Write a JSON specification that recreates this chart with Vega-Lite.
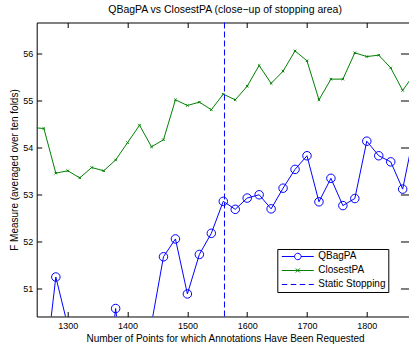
{
  "$schema": "https://vega.github.io/schema/vega-lite/v6.json",
  "width": 376.74,
  "height": 294,
  "autosize": {"type": "none"},
  "padding": {"left": 36.7, "top": 22.5, "right": 0, "bottom": 30},
  "background": "white",
  "config": {
    "font": "Liberation Sans",
    "view": {"stroke": "black", "strokeWidth": 1},
    "axis": {
      "grid": false,
      "domain": false,
      "tickColor": "black",
      "tickSize": -5,
      "tickWidth": 1,
      "labelColor": "black",
      "labelFontSize": 9,
      "labelFont": "Liberation Sans",
      "titleFont": "Liberation Sans",
      "titleFontSize": 10,
      "titleFontWeight": "normal",
      "titleColor": "black"
    }
  },
  "title": {
    "text": "QBagPA vs ClosestPA (close−up of stopping area)",
    "fontSize": 10.5,
    "fontWeight": "normal",
    "font": "Liberation Sans",
    "anchor": "middle",
    "baseline": "bottom",
    "offset": 5,
    "dy": 8,
    "color": "black"
  },
  "datasets": {
    "series": [
      {"series": "QBagPA", "x": 1260, "y": 49.05},
      {"series": "QBagPA", "x": 1280, "y": 51.24},
      {"series": "QBagPA", "x": 1300, "y": 50.2},
      {"series": "QBagPA", "x": 1320, "y": 49.4},
      {"series": "QBagPA", "x": 1340, "y": 49.0},
      {"series": "QBagPA", "x": 1360, "y": 48.4},
      {"series": "QBagPA", "x": 1380, "y": 50.57},
      {"series": "QBagPA", "x": 1400, "y": 48.4},
      {"series": "QBagPA", "x": 1420, "y": 49.2},
      {"series": "QBagPA", "x": 1440, "y": 50.25},
      {"series": "QBagPA", "x": 1460, "y": 51.67},
      {"series": "QBagPA", "x": 1480, "y": 52.05},
      {"series": "QBagPA", "x": 1500, "y": 50.88},
      {"series": "QBagPA", "x": 1520, "y": 51.72},
      {"series": "QBagPA", "x": 1540, "y": 52.17},
      {"series": "QBagPA", "x": 1560, "y": 52.85},
      {"series": "QBagPA", "x": 1580, "y": 52.68},
      {"series": "QBagPA", "x": 1600, "y": 52.92},
      {"series": "QBagPA", "x": 1620, "y": 52.99},
      {"series": "QBagPA", "x": 1640, "y": 52.69},
      {"series": "QBagPA", "x": 1660, "y": 53.13},
      {"series": "QBagPA", "x": 1680, "y": 53.53},
      {"series": "QBagPA", "x": 1700, "y": 53.82},
      {"series": "QBagPA", "x": 1720, "y": 52.84},
      {"series": "QBagPA", "x": 1740, "y": 53.34},
      {"series": "QBagPA", "x": 1760, "y": 52.76},
      {"series": "QBagPA", "x": 1780, "y": 52.91},
      {"series": "QBagPA", "x": 1800, "y": 54.13},
      {"series": "QBagPA", "x": 1820, "y": 53.82},
      {"series": "QBagPA", "x": 1840, "y": 53.69},
      {"series": "QBagPA", "x": 1860, "y": 53.11},
      {"series": "QBagPA", "x": 1880, "y": 54.36},
      {"series": "ClosestPA", "x": 1240, "y": 54.42},
      {"series": "ClosestPA", "x": 1260, "y": 54.40},
      {"series": "ClosestPA", "x": 1280, "y": 53.45},
      {"series": "ClosestPA", "x": 1300, "y": 53.50},
      {"series": "ClosestPA", "x": 1320, "y": 53.35},
      {"series": "ClosestPA", "x": 1340, "y": 53.57},
      {"series": "ClosestPA", "x": 1360, "y": 53.50},
      {"series": "ClosestPA", "x": 1380, "y": 53.73},
      {"series": "ClosestPA", "x": 1400, "y": 54.10},
      {"series": "ClosestPA", "x": 1420, "y": 54.47},
      {"series": "ClosestPA", "x": 1440, "y": 54.01},
      {"series": "ClosestPA", "x": 1460, "y": 54.16},
      {"series": "ClosestPA", "x": 1480, "y": 55.01},
      {"series": "ClosestPA", "x": 1500, "y": 54.89},
      {"series": "ClosestPA", "x": 1520, "y": 54.96},
      {"series": "ClosestPA", "x": 1540, "y": 54.80},
      {"series": "ClosestPA", "x": 1560, "y": 55.13},
      {"series": "ClosestPA", "x": 1580, "y": 55.01},
      {"series": "ClosestPA", "x": 1600, "y": 55.30},
      {"series": "ClosestPA", "x": 1620, "y": 55.74},
      {"series": "ClosestPA", "x": 1640, "y": 55.36},
      {"series": "ClosestPA", "x": 1660, "y": 55.62},
      {"series": "ClosestPA", "x": 1680, "y": 56.05},
      {"series": "ClosestPA", "x": 1700, "y": 55.84},
      {"series": "ClosestPA", "x": 1720, "y": 55.01},
      {"series": "ClosestPA", "x": 1740, "y": 55.45},
      {"series": "ClosestPA", "x": 1760, "y": 55.45},
      {"series": "ClosestPA", "x": 1780, "y": 56.01},
      {"series": "ClosestPA", "x": 1800, "y": 55.93},
      {"series": "ClosestPA", "x": 1820, "y": 55.96},
      {"series": "ClosestPA", "x": 1840, "y": 55.69},
      {"series": "ClosestPA", "x": 1860, "y": 55.21},
      {"series": "ClosestPA", "x": 1880, "y": 55.57}
    ],
    "stop": [{"series": "Static Stopping", "x": 1562}]
  },
  "layer": [
    {
      "data": {"name": "series"},
      "transform": [{"filter": "datum.series === 'QBagPA'"}],
      "mark": {"type": "line", "color": "#0000ff", "strokeWidth": 1, "clip": true},
      "encoding": {
        "x": {
          "field": "x", "type": "quantitative",
          "scale": {"domain": [1248, 1878], "nice": false, "zero": false},
          "axis": {
            "orient": "bottom",
            "values": [1300, 1400, 1500, 1600, 1700, 1800],
            "format": "d",
            "title": "Number of Points for which Annotations Have Been Requested",
            "labelPadding": 10,
            "titlePadding": 3
          }
        },
        "y": {
          "field": "y", "type": "quantitative",
          "scale": {"domain": [50.4, 56.655], "nice": false, "zero": false},
          "axis": {
            "orient": "left",
            "values": [51, 52, 53, 54, 55, 56],
            "format": "d",
            "title": "F Measure (averaged over ten folds)",
            "labelPadding": 9,
            "titlePadding": 3
          }
        }
      }
    },
    {
      "data": {"name": "series"},
      "transform": [{"filter": "datum.series === 'ClosestPA'"}],
      "mark": {"type": "line", "color": "#008000", "strokeWidth": 1, "clip": true},
      "encoding": {
        "x": {"field": "x", "type": "quantitative", "axis": null},
        "y": {"field": "y", "type": "quantitative", "axis": null}
      }
    },
    {
      "data": {"name": "series"},
      "transform": [{"filter": "datum.series === 'QBagPA'"}],
      "mark": {"type": "point", "shape": "circle", "filled": false, "size": 72, "color": "#0000ff", "strokeWidth": 1, "opacity": 1, "clip": true},
      "encoding": {
        "x": {"field": "x", "type": "quantitative", "axis": null},
        "y": {"field": "y", "type": "quantitative", "axis": null}
      }
    },
    {
      "data": {"name": "series"},
      "transform": [{"filter": "datum.series === 'ClosestPA'"}],
      "mark": {"type": "point", "shape": "M-1,-1L1,1M-1,1L1,-1", "filled": false, "size": 6, "color": "#008000", "strokeWidth": 1, "opacity": 1, "clip": true},
      "encoding": {
        "x": {"field": "x", "type": "quantitative", "axis": null},
        "y": {"field": "y", "type": "quantitative", "axis": null}
      }
    },
    {
      "data": {"name": "stop"},
      "mark": {"type": "rule", "color": "#0000ff", "strokeWidth": 1, "strokeDash": [6, 3]},
      "encoding": {
        "x": {"field": "x", "type": "quantitative", "axis": null}
      }
    },
    {
      "data": {"name": "series"},
      "mark": {"type": "point", "filled": false, "opacity": 0, "clip": true},
      "encoding": {
        "x": {
          "field": "x", "type": "quantitative",
          "axis": {"orient": "top", "values": [1300, 1400, 1500, 1600, 1700, 1800], "labels": false, "title": null}
        },
        "y": {
          "field": "y", "type": "quantitative",
          "axis": {"orient": "right", "values": [51, 52, 53, 54, 55, 56], "labels": false, "title": null, "tickSize": -13}
        },
        "shape": {
          "field": "series", "type": "nominal",
          "scale": {
            "domain": ["QBagPA", "ClosestPA", "Static Stopping"],
            "range": [
              "M-3.2,0H-0.65M0.65,0H3.2M0.65,0A0.65,0.65,0,1,1,-0.65,0A0.65,0.65,0,1,1,0.65,0",
              "M-3.2,0H3.2M-0.4,-0.4L0.4,0.4M-0.4,0.4L0.4,-0.4",
              "M-3.2,0H-2.1M-1.4,0H-0.3M0.4,0H1.5M2.2,0H3.2"
            ]
          },
          "legend": {
            "title": null, "orient": "none", "legendX": 240.6, "legendY": 226.5,
            "strokeColor": "black", "fillColor": "white", "padding": 2,
            "symbolSize": 100, "symbolStrokeWidth": 1, "symbolOffset": 13,
            "labelOffset": 15, "labelFontSize": 10, "labelFont": "Liberation Sans",
            "labelColor": "black", "rowPadding": 3, "columnPadding": 0, "symbolOpacity": 1, "cornerRadius": 0
          }
        },
        "color": {
          "field": "series", "type": "nominal",
          "scale": {
            "domain": ["QBagPA", "ClosestPA", "Static Stopping"],
            "range": ["#0000ff", "#008000", "#0000ff"]
          },
          "legend": {
            "title": null, "orient": "none", "legendX": 240.6, "legendY": 226.5,
            "strokeColor": "black", "fillColor": "white", "padding": 2,
            "symbolSize": 100, "symbolStrokeWidth": 1, "symbolOffset": 13,
            "labelOffset": 15, "labelFontSize": 10, "labelFont": "Liberation Sans",
            "labelColor": "black", "rowPadding": 3, "columnPadding": 0, "symbolOpacity": 1, "cornerRadius": 0
          }
        }
      }
    }
  ],
  "resolve": {"axis": {"x": "independent", "y": "independent"}}
}
